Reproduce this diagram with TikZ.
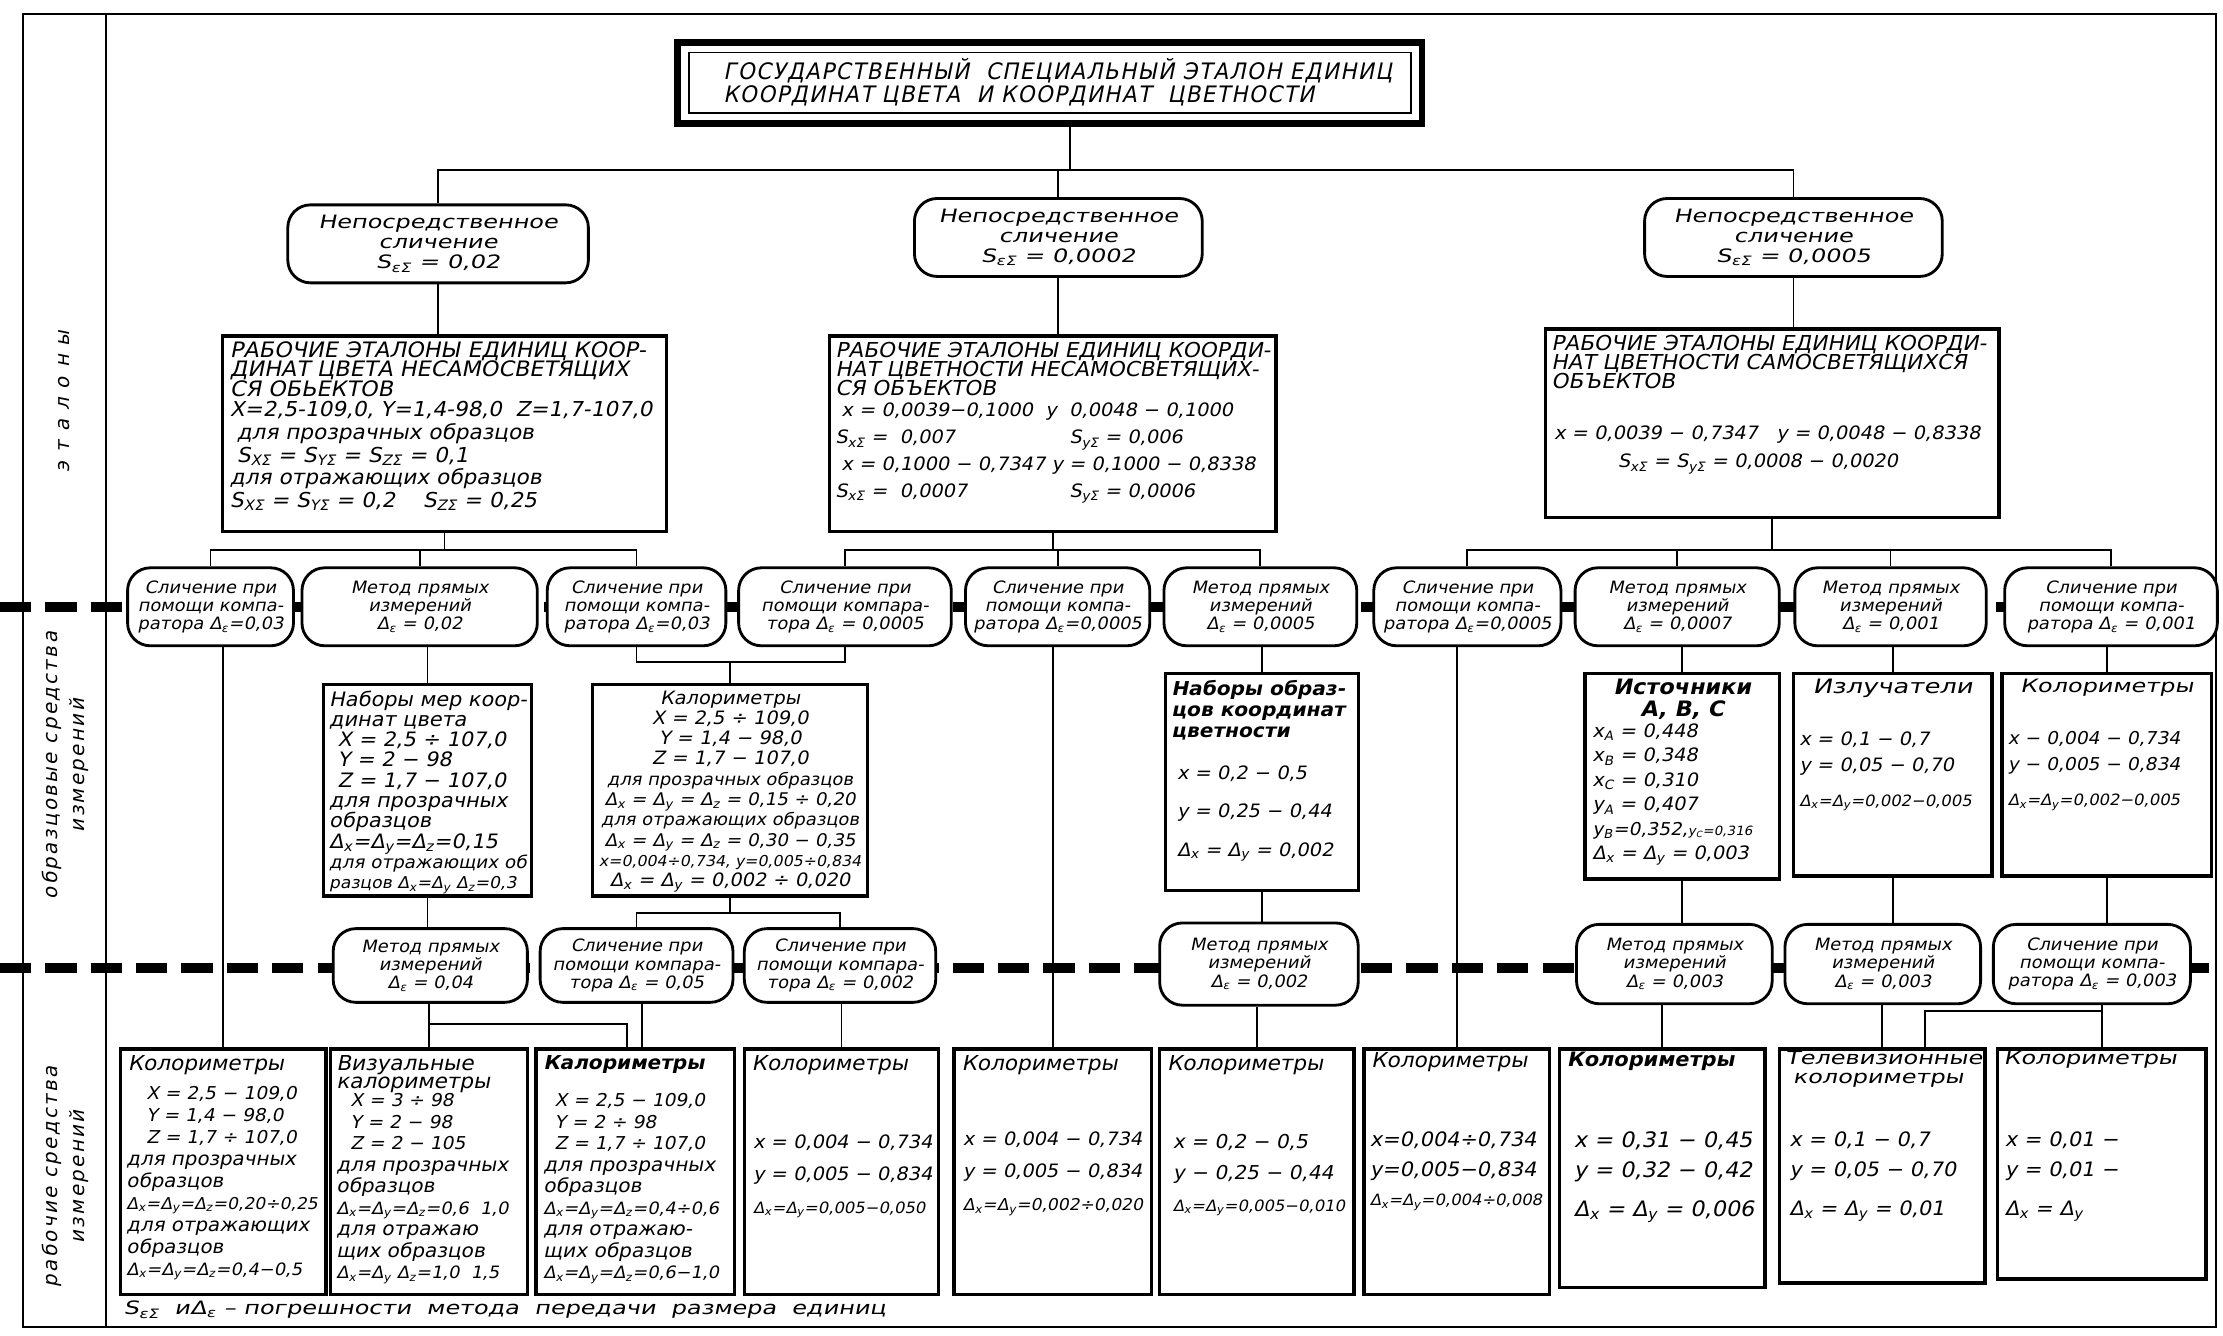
\documentclass[tikz,border=0pt]{standalone}
\usepackage{fontspec}
\setmainfont{DejaVu Sans}[FakeStretch=1.05,FakeSlant=0.2]
\newfontfamily\wfont{DejaVu Sans}[FakeStretch=1.3,FakeSlant=0.2]
\newfontfamily\ttlfont{DejaVu Sans}[FakeStretch=0.95,FakeSlant=0.2,LetterSpace=6]
\newfontfamily\lblfont{DejaVu Sans}[FakeSlant=0.2,LetterSpace=12]
\newfontfamily\lblwide{DejaVu Sans}[FakeSlant=0.2,LetterSpace=45]
\pgfdeclarelayer{bg}
\pgfsetlayers{bg,main}
\newcommand\fsz[2]{\fontsize{#1}{#2}\selectfont}
\newcommand\dlx{Δ\textsubscript{x}}
\newcommand\dly{Δ\textsubscript{y}}
\newcommand\dlz{Δ\textsubscript{z}}
\newcommand\dle{Δ\textsubscript{ε}}
\newcommand\see{S\textsubscript{εΣ}}
\newcommand\sub[2]{#1\textsubscript{#2}}
\tikzset{
  box/.style={draw,line width=2.4pt,fill=white,inner sep=0pt},
  ov/.style={draw,line width=2pt,rounded corners=16pt,fill=white,inner sep=0pt,align=center,font=\fsz{12}{12.8}},
  conn/.style={line width=1.3pt},
  dsep/.style={line width=7pt,dash pattern=on 22pt off 10pt},
  frame/.style={line width=1.6pt},
  txt/.style={inner sep=0pt,anchor=north west,align=left,font=\fsz{13}{15}},
  hd/.style={inner sep=0pt,anchor=north west,align=left,font=\fsz{15}{13.5}},
  lbl/.style={inner sep=0pt,rotate=90,align=center,font=\lblfont\fsz{14}{19}}
}
\begin{document}
\begin{tikzpicture}[x=1pt,y=-1pt]
\useasboundingbox (0,0) rectangle (1568,942);
% level coordinates
\coordinate (tj) at (755,120);
\coordinate (lvU) at (0,388);
\coordinate (lvM) at (0,467);
\coordinate (lvB) at (0,644);
\coordinate (lvL) at (0,722);
\coordinate (lvR) at (0,713);

% frame and labels
\draw[frame] (16,10) rectangle (1563,936);
\draw[frame] (75,10) -- (75,936);
\node[lbl,font=\lblwide\fsz{14}{19}] (lab1) at (45,283) {эталоны};
\node[lbl] (lab2) at (46,540) {образцовые средства\\измерений};
\node[lbl] (lab3) at (46,830) {рабочие средства\\измерений};

% title
\node[draw,line width=4.5pt,minimum width=525pt,minimum height=57pt,inner sep=0pt] (title) at (740.5,58.5) {};
\node[draw,line width=1.3pt,minimum width=509pt,minimum height=43pt,inner sep=0pt] (titlein) at (740.5,58.5) {};
\node[inner sep=0pt,anchor=west,align=left,font=\ttlfont\fsz{16}{16.5}] (ttl) at (510,58) {ГОСУДАРСТВЕННЫЙ \ СПЕЦИАЛЬНЫЙ ЭТАЛОН ЕДИНИЦ\\КООРДИНАТ ЦВЕТА \ И КООРДИНАТ \ ЦВЕТНОСТИ};

% top ovals
\node[ov,font=\wfont\fsz{13}{14},minimum width=212pt,minimum height=55pt] (T1) at (309,172) {Непосредственное\\сличение\\\see{} = 0,02};
\node[ov,font=\wfont\fsz{13}{14},minimum width=203pt,minimum height=55pt] (T2) at (746.5,167.5) {Непосредственное\\сличение\\\see{} = 0,0002};
\node[ov,font=\wfont\fsz{13}{14},minimum width=210pt,minimum height=55pt] (T3) at (1265,167.5) {Непосредственное\\сличение\\\see{} = 0,0005};

% upper boxes
\node[box,minimum width=313pt,minimum height=138pt] (U1) at (313.5,306) {};
\node[hd] (U1h) at (162,241) {РАБОЧИЕ ЭТАЛОНЫ ЕДИНИЦ КООР-\\ДИНАТ ЦВЕТА НЕСАМОСВЕТЯЩИХ\\СЯ ОБЬЕКТОВ};
\node[txt,font=\fsz{14.5}{16}] (U1d) at (162,283) {X=2,5-109,0, Y=1,4-98,0 \ Z=1,7-107,0\\\ для прозрачных образцов\\\ \sub{S}{XΣ} = \sub{S}{YΣ} = \sub{S}{ZΣ} = 0,1\\для отражающих образцов\\\sub{S}{XΣ} = \sub{S}{YΣ} = 0,2 \quad \sub{S}{ZΣ} = 0,25};

\node[box,minimum width=315pt,minimum height=138pt] (U2) at (742.5,306) {};
\node[hd,font=\fsz{14.5}{13.5}] (U2h) at (589,241) {РАБОЧИЕ ЭТАЛОНЫ ЕДИНИЦ КООРДИ-\\НАТ ЦВЕТНОСТИ НЕСАМОСВЕТЯЩИХ-\\СЯ ОБЪЕКТОВ};
\node[txt,font=\fsz{13}{19}] (U2d) at (589,284) {\ x = 0,0039−0,1000 \ y \ 0,0048 − 0,1000\\\makebox[165pt][l]{\sub{S}{xΣ} = \ 0,007}\sub{S}{yΣ} = 0,006\\\ x = 0,1000 − 0,7347 y = 0,1000 − 0,8338\\\makebox[165pt][l]{\sub{S}{xΣ} = \ 0,0007}\sub{S}{yΣ} = 0,0006};

\node[box,minimum width=320pt,minimum height=133pt] (U3) at (1250,298.5) {};
\node[hd,font=\fsz{14.5}{13.5}] (U3h) at (1094,236) {РАБОЧИЕ ЭТАЛОНЫ ЕДИНИЦ КООРДИ-\\НАТ ЦВЕТНОСТИ САМОСВЕТЯЩИХСЯ\\ОБЪЕКТОВ};
\node[txt,font=\fsz{13}{20}] (U3d) at (1096,300) {x = 0,0039 − 0,7347 \ \ y = 0,0048 − 0,8338\\\hspace{45pt}\sub{S}{xΣ} = \sub{S}{yΣ} = 0,0008 − 0,0020};

% middle ovals
\node[ov,minimum width=117pt,minimum height=55pt] (m1) at (148.5,428) {Сличение при\\помощи компа-\\ратора \dle=0,03};
\node[ov,minimum width=166pt,minimum height=55pt] (m2) at (296,428) {Метод прямых\\измерений\\\dle{} = 0,02};
\node[ov,minimum width=126pt,minimum height=55pt] (m3) at (449,428) {Сличение при\\помощи компа-\\ратора \dle=0,03};
\node[ov,minimum width=150pt,minimum height=55pt] (m4) at (596,428) {Сличение при\\помощи компара-\\тора \dle{} = 0,0005};
\node[ov,minimum width=130pt,minimum height=55pt] (m5) at (746,428) {Сличение при\\помощи компа-\\ратора \dle=0,0005};
\node[ov,minimum width=136pt,minimum height=55pt] (m6) at (889,428) {Метод прямых\\измерений\\\dle{} = 0,0005};
\node[ov,minimum width=132pt,minimum height=55pt] (m7) at (1035,428) {Сличение при\\помощи компа-\\ратора \dle=0,0005};
\node[ov,minimum width=144pt,minimum height=55pt] (m8) at (1183,428) {Метод прямых\\измерений\\\dle{} = 0,0007};
\node[ov,minimum width=135pt,minimum height=55pt] (m9) at (1333.5,428) {Метод прямых\\измерений\\\dle{} = 0,001};
\node[ov,minimum width=150pt,minimum height=55pt] (m10) at (1489,428) {Сличение при\\помощи компа-\\ратора \dle{} = 0,001};

% middle boxes
\node[box,minimum width=147pt,minimum height=149pt] (A) at (301.5,557.5) {};
\node[txt,font=\fsz{14}{14.3}] (At) at (232,487) {Наборы мер коор-\\динат цвета\\\hspace{6pt}X = 2,5 ÷ 107,0\\\hspace{6pt}Y = 2 − 98\\\hspace{6pt}Z = 1,7 − 107,0\\для прозрачных\\образцов\\\dlx=\dly=\dlz=0,15\\{\fsz{12.3}{14.3}для отражающих об}\\{\fsz{11.5}{14.3}разцов \dlx=\dly{} \dlz=0,3}};

\node[box,minimum width=194pt,minimum height=149pt] (B) at (515,557.5) {};
\node[txt,anchor=north,align=center,font=\fsz{13}{14.3}] (Bt) at (515,487) {Калориметры\\X = 2,5 ÷ 109,0\\Y = 1,4 − 98,0\\Z = 1,7 − 107,0\\{\fsz{12}{14.3}для прозрачных образцов}\\{\fsz{12.3}{14.3}\dlx{} = \dly{} = \dlz{} = 0,15 ÷ 0,20}\\{\fsz{12}{14.3}для отражающих образцов}\\{\fsz{12.3}{14.3}\dlx{} = \dly{} = \dlz{} = 0,30 − 0,35}\\{\fsz{10.6}{14.3}x=0,004÷0,734, y=0,005÷0,834}\\\dlx{} = \dly{} = 0,002 ÷ 0,020};

\node[box,minimum width=136pt,minimum height=153pt] (C) at (890,551.5) {};
\node[txt,font=\bfseries\fsz{13.5}{14.5}] (Ch) at (826,480) {Наборы образ-\\цов координат\\цветности};
\node[txt,font=\fsz{13}{27}] (Cd) at (830,540) {x = 0,2 − 0,5\\y = 0,25 − 0,44\\\dlx{} = \dly{} = 0,002};

\node[box,minimum width=137pt,minimum height=145pt] (D) at (1186.5,547.5) {};
\node[txt,anchor=north,align=center,font=\bfseries\fsz{15}{15}] (Dh) at (1186.5,479) {Источники\\A, B, C};
\node[txt,font=\fsz{13}{17.3}] (Dd) at (1123,510) {\sub{x}{A} = 0,448\\\sub{x}{B} = 0,348\\\sub{x}{C} = 0,310\\\sub{y}{A} = 0,407\\{\fsz{12.5}{17.3}\sub{y}{B}=0,352,}{\fsz{9}{10}\sub{y}{C}=0,316}\\\dlx{} = \dly{} = 0,003};

\node[box,minimum width=140pt,minimum height=143pt] (E) at (1335,546.5) {};
\node[txt,anchor=north,font=\wfont\fsz{14}{14}] (Eh) at (1335,479) {Излучатели};
\node[txt,font=\fsz{13}{18}] (Ed) at (1269,516) {x = 0,1 − 0,7\\y = 0,05 − 0,70\\[7pt]{\fsz{11}{12}\dlx{}=\dly{}=0,002−0,005}};

\node[box,minimum width=148pt,minimum height=143pt] (F) at (1486,546.5) {};
\node[txt,anchor=north,font=\wfont\fsz{13}{14}] (Fh) at (1486,479) {Колориметры};
\node[txt,font=\fsz{12.5}{18}] (Fd) at (1416,516) {x − 0,004 − 0,734\\y − 0,005 − 0,834\\[7pt]{\fsz{11}{12}\dlx{}=\dly{}=0,002−0,005}};

% lower ovals
\node[ov,minimum width=137pt,minimum height=52pt] (L1) at (303.5,681) {Метод прямых\\измерений\\\dle{} = 0,04};
\node[ov,minimum width=136pt,minimum height=52pt] (L2) at (449,681) {Сличение при\\помощи компара-\\тора \dle{} = 0,05};
\node[ov,minimum width=135pt,minimum height=52pt] (L3) at (592.5,681) {Сличение при\\помощи компара-\\тора \dle{} = 0,002};
\node[ov,minimum width=140pt,minimum height=58pt] (L4) at (888,680) {Метод прямых\\измерений\\\dle{} = 0,002};
\node[ov,minimum width=138pt,minimum height=56pt] (L5) at (1181,680) {Метод прямых\\измерений\\\dle{} = 0,003};
\node[ov,minimum width=138pt,minimum height=56pt] (L6) at (1328,680) {Метод прямых\\измерений\\\dle{} = 0,003};
\node[ov,minimum width=139pt,minimum height=56pt] (L7) at (1475.5,680) {Сличение при\\помощи компа-\\ратора \dle{} = 0,003};

% bottom boxes
\node[box,minimum width=145pt,minimum height=173pt] (B1) at (157.5,826.5) {};
\node[txt,font=\fsz{14.5}{15}] (B1h) at (90,744) {Колориметры};
\node[txt,font=\fsz{13.3}{15.5}] (B1d) at (89,766) {{\fsz{12.5}{15.5}\hspace{14pt}X = 2,5 − 109,0}\\{\fsz{12.5}{15.5}\hspace{14pt}Y = 1,4 − 98,0}\\{\fsz{12.5}{15.5}\hspace{14pt}Z = 1,7 ÷ 107,0}\\для прозрачных\\образцов\\{\fsz{11.5}{15.5}\dlx=\dly=\dlz=0,20÷0,25}\\для отражающих\\образцов\\{\fsz{12}{15.5}\dlx=\dly=\dlz=0,4−0,5}};

\node[box,minimum width=139pt,minimum height=173pt] (B2) at (302.5,826.5) {};
\node[txt,font=\fsz{14.5}{13}] (B2h) at (237,744) {Визуальные\\калориметры};
\node[txt,font=\fsz{13.5}{15.2}] (B2d) at (237,771) {{\fsz{12.5}{15.2}\hspace{10pt}X = 3 ÷ 98}\\{\fsz{12.5}{15.2}\hspace{10pt}Y = 2 − 98}\\{\fsz{12.5}{15.2}\hspace{10pt}Z = 2 − 105}\\для прозрачных\\образцов\\{\fsz{12}{15.2}\dlx=\dly=\dlz=0,6 \ 1,0}\\для отражаю\\щих образцов\\{\fsz{12}{15.2}\dlx=\dly{} \dlz=1,0 \ 1,5}};

\node[box,minimum width=140pt,minimum height=173pt] (B3) at (448,826.5) {};
\node[txt,font=\bfseries\fsz{13.5}{14}] (B3h) at (383,744) {Калориметры};
\node[txt,font=\fsz{13.5}{15.2}] (B3d) at (383,771) {{\fsz{12.5}{15.2}\hspace{8pt}X = 2,5 − 109,0}\\{\fsz{12.5}{15.2}\hspace{8pt}Y = 2 ÷ 98}\\{\fsz{12.5}{15.2}\hspace{8pt}Z = 1,7 ÷ 107,0}\\для прозрачных\\образцов\\{\fsz{12}{15.2}\dlx=\dly=\dlz=0,4÷0,6}\\для отражаю-\\щих образцов\\{\fsz{12}{15.2}\dlx=\dly=\dlz=0,6−1,0}};

\node[box,minimum width=137pt,minimum height=173pt] (B4) at (593.5,826.5) {};
\node[txt,font=\fsz{14.5}{15}] (B4h) at (530,744) {Колориметры};
\node[txt,font=\fsz{13}{23}] (B4d) at (531,800) {x = 0,004 − 0,734\\y = 0,005 − 0,834\\{\fsz{11}{28}\dlx=\dly=0,005−0,050}};

\node[box,minimum width=139pt,minimum height=173pt] (B5) at (742.5,826.5) {};
\node[txt,font=\fsz{14.5}{15}] (B5h) at (678,744) {Колориметры};
\node[txt,font=\fsz{13}{23}] (B5d) at (679,798) {x = 0,004 − 0,734\\y = 0,005 − 0,834\\{\fsz{11.5}{28}\dlx=\dly=0,002÷0,020}};

\node[box,minimum width=137pt,minimum height=173pt] (B6) at (886.5,826.5) {};
\node[txt,font=\fsz{14.5}{15}] (B6h) at (823,744) {Колориметры};
\node[txt,font=\fsz{13.5}{22}] (B6d) at (827,800) {x = 0,2 − 0,5\\y − 0,25 − 0,44\\{\fsz{11}{28}\dlx=\dly=0,005−0,010}};

\node[box,minimum width=131pt,minimum height=173pt] (B7) at (1027.5,826.5) {};
\node[txt,font=\fsz{14.5}{15}] (B7h) at (967,742) {Колориметры};
\node[txt,font=\fsz{14}{21}] (B7d) at (966,798) {x=0,004÷0,734\\y=0,005−0,834\\{\fsz{11}{28}\dlx=\dly=0,004÷0,008}};

\node[box,minimum width=145pt,minimum height=168pt] (B8) at (1172.5,824) {};
\node[txt,font=\bfseries\fsz{14}{14}] (B8h) at (1105,742) {Колориметры};
\node[txt,font=\fsz{15}{21}] (B8d) at (1110,798) {x = 0,31 − 0,45\\y = 0,32 − 0,42\\[7pt]\dlx{} = \dly{} = 0,006};

\node[box,minimum width=145pt,minimum height=165pt] (B9) at (1327.5,822.5) {};
\node[txt,font=\wfont\fsz{13}{13.5}] (B9h) at (1259,741) {Телевизионные\\\ колориметры};
\node[txt,font=\fsz{14}{21}] (B9d) at (1262,798) {x = 0,1 − 0,7\\y = 0,05 − 0,70\\[7pt]\dlx{} = \dly{} = 0,01};

\node[box,minimum width=147pt,minimum height=162pt] (B10) at (1482.5,821) {};
\node[txt,font=\wfont\fsz{13}{14}] (B10h) at (1413,741) {Колориметры};
\node[txt,font=\fsz{14}{21}] (B10d) at (1414,798) {x = 0,01 −\\y = 0,01 −\\[7pt]\dlx{} = \dly};

% footnote
\node[inner sep=0pt,anchor=west,font=\wfont\fsz{13}{14}] (foot) at (87,924) {\see{} \ и\dle{} – погрешности \ метода \ передачи \ размера \ единиц};

\coordinate (b3l) at ([xshift=-6pt]B3.north);
\coordinate (b3r) at ([xshift=5pt]B3.north);
\coordinate (b9r) at ([xshift=30pt]B9.north);

\begin{pgfonlayer}{bg}
\draw[dsep] (0,428) -- (1568,428);
\draw[dsep] (0,683) -- (1568,683);
% title to top ovals
\draw[conn] (title.south -| tj) -- (tj);
\draw[conn] (T1.north) |- (tj) -| (T3.north);
\draw[conn] (T2.north) -- (T2.north |- tj);
\draw[conn] (T1.south) -- (T1.south |- U1.north);
\draw[conn] (T2.south) -- (T2.south |- U2.north);
\draw[conn] (T3.south) -- (T3.south |- U3.north);
% upper boxes to middle ovals
\draw[conn] (U1.south) -- (U1.south |- lvU);
\draw[conn] (m1.north) |- (U1.south |- lvU) -| (m3.north);
\draw[conn] (m2.north) -- (m2.north |- lvU);
\draw[conn] (U2.south) -- (U2.south |- lvU);
\draw[conn] (m4.north) |- (U2.south |- lvU) -| (m6.north);
\draw[conn] (m5.north) -- (m5.north |- lvU);
\draw[conn] (U3.south) -- (U3.south |- lvU);
\draw[conn] (m7.north) |- (U3.south |- lvU) -| (m10.north);
\draw[conn] (m8.north) -- (m8.north |- lvU);
\draw[conn] (m9.north) -- (m9.north |- lvU);
% middle ovals down
\draw[conn] (B1.north) -- (B1.north |- m1.south);
\draw[conn] (A.north) -- (A.north |- m2.south);
\draw[conn] (m3.south) |- (B.north |- lvM) -| (m4.south);
\draw[conn] (B.north) -- (B.north |- lvM);
\draw[conn] (B5.north) -- (B5.north |- m5.south);
\draw[conn] (C.north) -- (C.north |- m6.south);
\draw[conn] (B7.north) -- (B7.north |- m7.south);
\draw[conn] (D.north) -- (D.north |- m8.south);
\draw[conn] (E.north) -- (E.north |- m9.south);
\draw[conn] (F.north) -- (F.north |- m10.south);
% middle boxes down
\draw[conn] (A.south) -- (A.south |- L1.north);
\draw[conn] (B.south) -- (B.south |- lvB);
\draw[conn] (L2.north) |- (B.south |- lvB) -| (L3.north);
\draw[conn] (C.south) -- (C.south |- L4.north);
\draw[conn] (D.south) -- (D.south |- L5.north);
\draw[conn] (E.south) -- (E.south |- L6.north);
\draw[conn] (F.south) -- (F.south |- L7.north);
% lower ovals down
\draw[conn] (B2.north) -- (B2.north |- L1.south);
\draw[conn] (B2.north |- lvL) -| (b3l);
\draw[conn] (b3r) -- (b3r |- L2.south);
\draw[conn] (B4.north) -- (B4.north |- L3.south);
\draw[conn] (B6.north) -- (B6.north |- L4.south);
\draw[conn] (B8.north) -- (B8.north |- L5.south);
\draw[conn] (B9.north) -- (B9.north |- L6.south);
\draw[conn] (B10.north) -- (B10.north |- L7.south);
\draw[conn] (b9r) |- (B10.north |- lvR);
\end{pgfonlayer}
\end{tikzpicture}
\end{document}
